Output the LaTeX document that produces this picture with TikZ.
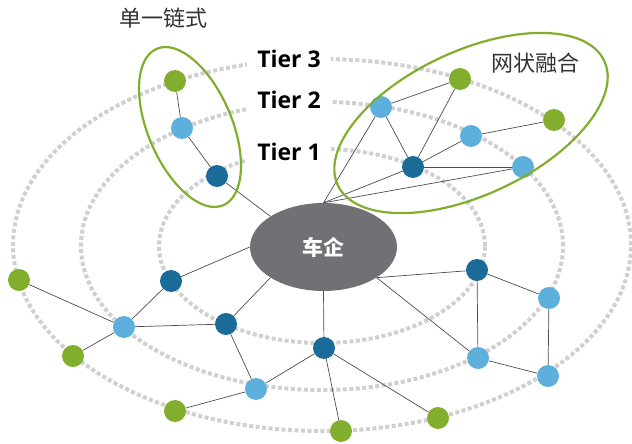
\documentclass[tikz,border=0pt]{standalone}
\usepackage{fontspec}
\setmainfont{Open Sans}
\newfontfamily\cjk{Noto Sans CJK SC}
\usetikzlibrary{shapes.geometric}
\definecolor{tone1}{HTML}{1A6B98}
\definecolor{tone2}{HTML}{5EB0DC}
\definecolor{tone3}{HTML}{82AE2E}
\definecolor{dotgray}{HTML}{D0D0D0}
\definecolor{hubgray}{HTML}{717175}

\begin{document}
\begin{tikzpicture}[x=1pt, y=1pt,
	t1/.style={shape=circle,fill=tone1,minimum size=22pt,inner sep=0pt},
	t2/.style={shape=circle,fill=tone2,minimum size=22pt,inner sep=0pt},
	t3/.style={shape=circle,fill=tone3,minimum size=22pt,inner sep=0pt},
	hub/.style={shape=ellipse,fill=hubgray,minimum width=147pt,minimum height=88pt,
	text=white,font=\cjk\bfseries\fontsize{21}{21}\selectfont},
	ring/.style={dotgray,line width=4pt,dash pattern=on 4pt off 2.5pt},
	grp/.style={tone3,line width=2.2pt},
	link/.style={draw=black!70,line width=0.7pt},
	tierlbl/.style={fill=white,inner xsep=10pt,inner ysep=2pt,font=\bfseries\fontsize{23}{23}\selectfont},
	grplbl/.style={text=black!80,font=\cjk\fontsize{22}{22}\selectfont}]
\useasboundingbox (0,0) rectangle (632,-444);
% dotted tiers
\draw[ring] (322,-246) ellipse [x radius=163pt, y radius=97pt];
\draw[ring] (322,-246) ellipse [x radius=241pt, y radius=144pt];
\draw[ring] (322,-245) ellipse [x radius=309pt, y radius=186pt];
\node[tierlbl] (t3lbl) at (289,-59) {Tier 3};
\node[tierlbl] (t2lbl) at (289,-100) {Tier 2};
\node[tierlbl] (t1lbl) at (289,-152) {Tier 1};
% nodes
\node[hub] (0) at (323.5,-247) {车企};
\node[t1] (1) at (217,-176) {};
\node[t2] (2) at (182,-128) {};
\node[t3] (3) at (175,-81) {};
\node[t1] (4) at (413,-167) {};
\node[t2] (5) at (381,-107) {};
\node[t3] (6) at (460,-79) {};
\node[t2] (7) at (471,-136) {};
\node[t3] (8) at (554,-120) {};
\node[t2] (9) at (523,-167) {};
\node[t1] (10) at (171,-281) {};
\node[t1] (11) at (226,-324) {};
\node[t2] (12) at (124,-327) {};
\node[t3] (13) at (19,-280) {};
\node[t3] (14) at (73,-356) {};
\node[t2] (15) at (256,-389) {};
\node[t3] (16) at (175,-411) {};
\node[t1] (17) at (324,-348) {};
\node[t3] (18) at (341,-431) {};
\node[t3] (19) at (438,-418) {};
\node[t1] (20) at (477,-270) {};
\node[t2] (21) at (549,-298) {};
\node[t2] (22) at (478,-358) {};
\node[t2] (23) at (548,-376) {};
% links
\draw[link] (0.150) to (1);
\draw[link] (1) to (2);
\draw[link] (2) to (3);
\draw[link] (0.north) to (5);
\draw[link] (0.north) to (4);
\draw[link] (0.north) to (9);
\draw[link] (5) to (6);
\draw[link] (5) to (4);
\draw[link] (6) to (4);
\draw[link] (4) to (7);
\draw[link] (7) to (8);
\draw[link] (4) to (9);
\draw[link] (0.west) to (10);
\draw[link] (0.210) to (11);
\draw[link] (10) to (12);
\draw[link] (11) to (12);
\draw[link] (13) to (12);
\draw[link] (14) to (12);
\draw[link] (11) to (15);
\draw[link] (15) to (16);
\draw[link] (15) to (17);
\draw[link] (0.south) to (17);
\draw[link] (17) to (18);
\draw[link] (17) to (19);
\draw[link] (0.-30) to (20);
\draw[link] (0.-30) to (22);
\draw[link] (20) to (21);
\draw[link] (20) to (22);
\draw[link] (21) to (23);
\draw[link] (22) to (23);
% groups
\draw[grp] (190,-127) ellipse [x radius=85pt, y radius=42pt, rotate=-67];
\draw[grp] (471,-123) ellipse [x radius=147pt, y radius=72pt, rotate=25];
\node[grplbl] (chain) at (163,-18) {单一链式};
\node[grplbl] (mesh) at (535,-63) {网状融合};
\end{tikzpicture}
\end{document}
